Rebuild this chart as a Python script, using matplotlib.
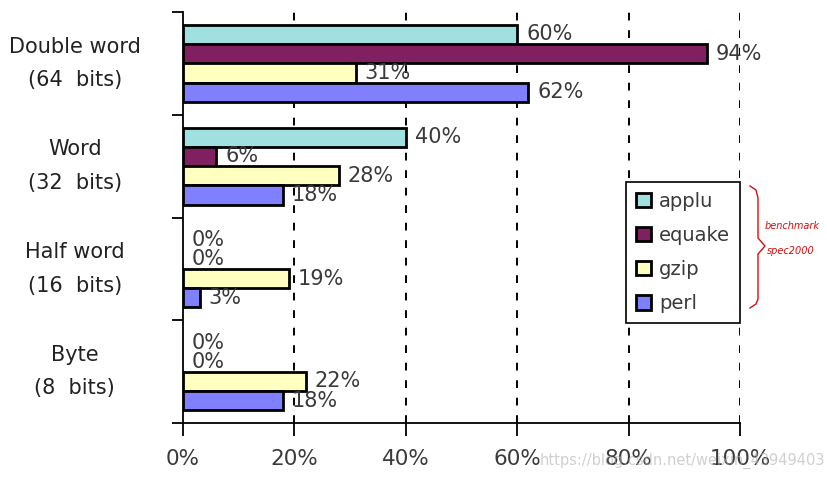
import matplotlib
matplotlib.use("Agg")
import matplotlib.pyplot as plt
from matplotlib.ticker import FuncFormatter, FixedLocator
import numpy as np

categories = ["Double word\n(64  bits)", "Word\n(32  bits)", "Half word\n(16  bits)", "Byte\n(8  bits)"]
benchmarks = ["applu", "equake", "gzip", "perl"]
applu = [60, 40, 0, 0]
equake = [94, 6, 0, 0]
gzip = [31, 28, 19, 22]
perl = [62, 18, 3, 18]
colors = ["#a0e0e0", "#802060", "#ffffc0", "#8080ff"]

TEXT = "#3a3a3a"


def main():
    plt.rcParams['font.family'] = ['DejaVu Sans']
    fig = plt.figure(figsize=(8.28, 4.8), dpi=100)
    ax = fig.add_axes([183 / 828, 1 - 423 / 480, (740 - 183) / 828, (423 - 12) / 480])

    series = [applu, equake, gzip, perl]
    h = 0.1875
    centers = np.arange(len(categories))
    for j, (name, vals, c) in enumerate(zip(benchmarks, series, colors)):
        ys = centers + (j - 1.5) * h
        lws = [2 if v > 0 else 0 for v in vals]
        ax.barh(ys, vals, height=h, color=c, edgecolor="black", linewidth=lws,
                label=name, zorder=3)
        for y, v in zip(ys, vals):
            ax.text(v + 1.6, y, "%d%%" % v, va="center", ha="left",
                    fontsize=15, color=TEXT, zorder=4)

    ax.set_xlim(0, 100)
    ax.set_ylim(len(categories) - 0.5, -0.5)
    ax.set_xticks([0, 20, 40, 60, 80, 100])
    ax.xaxis.set_major_formatter(FuncFormatter(lambda v, p: "%d%%" % v))
    ax.tick_params(axis="x", direction="out", length=9, width=1.3,
                   labelsize=15.5, labelcolor=TEXT, pad=10)
    for xv in [20, 40, 60, 80, 100]:
        ax.axvline(xv, color="black", linestyle=(0, (4, 5)), linewidth=1.4, zorder=1)

    ax.set_yticks(centers)
    ax.set_yticklabels(categories, fontsize=15, color="#222222",
                       ha="center", va="center", linespacing=1.85)
    ax.tick_params(axis="y", which="major", length=0, pad=78)
    ax.yaxis.set_minor_locator(FixedLocator(np.arange(-0.5, len(categories), 1.0)))
    ax.tick_params(axis="y", which="minor", direction="out", length=8, width=1.3)

    for s in ["top", "right"]:
        ax.spines[s].set_visible(False)
    ax.spines["left"].set_linewidth(1.3)
    ax.spines["bottom"].set_linewidth(1.3)

    leg = ax.legend(loc="upper right", bbox_to_anchor=(1.0, 241 / 411),
                    borderaxespad=0, fontsize=14, handlelength=0.75,
                    handleheight=0.75, handletextpad=0.45, labelspacing=0.78,
                    borderpad=0.5, fancybox=False, framealpha=1)
    leg.get_frame().set_edgecolor("black")
    leg.get_frame().set_linewidth(1.2)
    for t in leg.get_texts():
        t.set_color(TEXT)
    for p in leg.get_patches():
        p.set_linewidth(2)
    leg.set_zorder(5)

    # handwritten note on the right
    bx = [750, 756, 758, 758, 765, 758, 758, 756, 750]
    by = [186, 190, 198, 238, 246, 254, 299, 304, 308]
    fig.add_artist(plt.Line2D([x / 828 for x in bx], [1 - y / 480 for y in by],
                              transform=fig.transFigure, color="#d01010", linewidth=1.0))
    fig.text(765 / 828, 1 - 226 / 480, "benchmark", fontsize=7, color="#d01010",
             style="italic", va="center")
    fig.text(767 / 828, 1 - 251 / 480, "spec2000", fontsize=7, color="#d01010",
             style="italic", va="center")

    fig.text(540 / 828, 1 - 461 / 480, "https://blog.csdn.net/weixin_43949403",
             fontsize=10.5, color="#b0b0b0", alpha=0.6, va="center", zorder=0)

    fig.savefig("out.png", dpi=100)


if __name__ == "__main__":
    main()
